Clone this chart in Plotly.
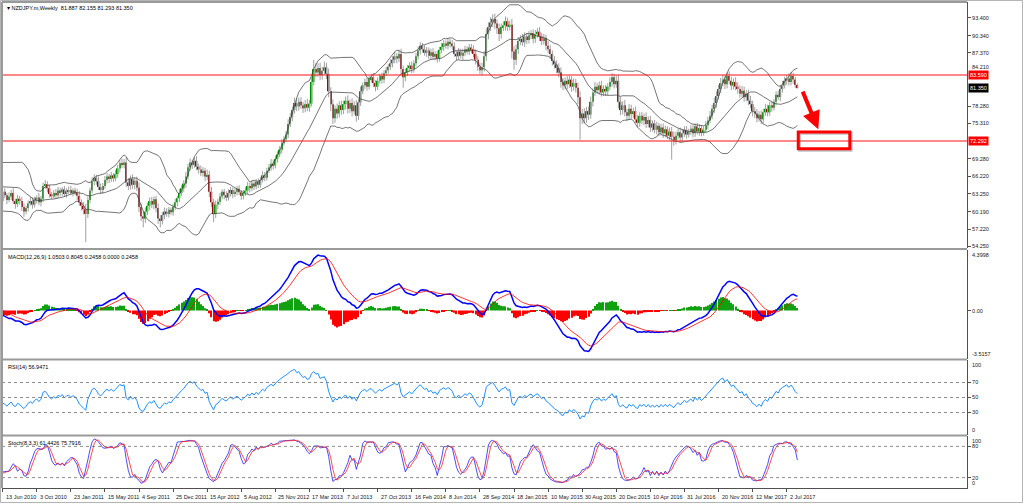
import numpy as np
import pandas as pd
import plotly.graph_objects as go

# ---------------- data (weekly NZDJPY) ----------------
title_text = "NZDJPY.m,Weekly  81.887 82.155 81.293 81.350"
macd_text = "MACD(12,26,9) 1.0503 0.8045 0.2458 0.0000 0.2458"
rsi_text = "RSI(14) 56.9471"
stoch_text = "Stoch(8,3,3) 61.4426 75.7916"

first_visible_week = "2010-06-13"

# history before the first visible bar (needed for the indicators)
pre_first_open = 65.0
pre_closes = [65.4, 64.8, 62.6, 63.6, 64.4, 64.9, 65.6, 66.8, 67.1, 66.0,
              64.2, 63.2, 62.4, 62.9, 63.3, 62.5, 62.2, 63.4, 64.3, 65.6,
              66.8, 67.3, 67.0, 68.2, 68.5, 65.8, 64.6, 62.4, 62.9, 62.0]
pre_wick_up = [0.6, 0.5, 0.7, 0.6, 0.5, 0.7, 0.6, 0.8, 0.6, 0.5,
               0.7, 0.6, 0.5, 0.6, 0.7, 0.5, 0.6, 0.7, 0.6, 0.5,
               0.8, 0.6, 0.7, 0.6, 0.9, 0.7, 0.8, 0.9, 0.7, 0.8]
pre_wick_dn = [0.5, 0.7, 1.2, 0.6, 0.5, 0.6, 0.7, 0.5, 0.6, 0.8,
               0.7, 0.6, 0.7, 0.5, 0.6, 0.7, 0.6, 0.5, 0.6, 0.7,
               0.5, 0.6, 0.7, 0.5, 0.6, 1.0, 0.9, 2.5, 0.8, 0.7]

closes = [
    63.6, 63.0, 62.2, 62.8, 63.4, 62.0, 61.5, 62.4, 62.0, 61.0,
    60.2, 60.8, 61.6, 62.0, 61.4, 62.2, 62.6, 61.8, 62.4, 64.6,
    64.9, 64.2, 63.2, 62.8, 63.4, 63.0, 63.8, 63.5, 64.0, 63.2,
    63.7, 63.9, 63.4, 63.8, 63.5, 62.9, 61.8, 61.2, 60.6, 59.8,
    62.2, 63.8, 65.4, 66.0, 65.4, 64.4, 63.9, 64.6, 65.6, 66.2,
    65.8, 66.4, 65.9, 66.6, 67.6, 68.5, 68.2, 68.6, 65.2, 64.6,
    65.8, 64.8, 65.5, 64.3, 61.0, 59.4, 59.0, 60.2, 61.2, 62.0,
    61.4, 62.3, 60.8, 59.0, 58.6, 59.6, 60.2, 59.8, 60.5, 60.1,
    61.0, 61.8, 62.5, 63.4, 64.2, 65.0, 66.2, 67.8, 68.6, 68.2,
    68.9, 67.9, 67.4, 66.8, 67.2, 66.2, 66.5, 63.6, 61.8, 59.8,
    61.4, 61.9, 62.8, 63.6, 63.0, 62.6, 63.4, 63.9, 63.2, 63.6,
    64.1, 63.5, 62.9, 63.4, 63.8, 64.6, 64.2, 65.0, 64.5, 65.3,
    64.8, 65.6, 66.4, 66.0, 67.2, 67.8, 68.4, 68.1, 69.2, 70.0,
    70.8, 71.9, 72.6, 73.4, 75.2, 76.4, 77.6, 78.8, 78.2, 79.0,
    78.4, 77.9, 78.6, 78.0, 78.7, 82.4, 84.6, 84.0, 84.8, 83.6,
    84.3, 84.9, 83.8, 80.8, 78.6, 76.2, 77.8, 77.0, 78.4, 77.6,
    78.6, 79.2, 77.8, 78.8, 77.4, 78.4, 76.6, 78.9, 80.8, 81.8,
    82.4, 81.6, 82.9, 83.2, 82.2, 81.6, 82.6, 83.4, 82.8, 83.9,
    84.4, 85.0, 85.6, 86.2, 86.8, 86.4, 87.2, 84.6, 83.2, 84.0,
    84.8, 85.2, 84.6, 85.6, 86.8, 87.8, 88.6, 88.0, 87.4, 87.8,
    86.9, 87.5, 86.7, 87.2, 86.4, 87.9, 88.4, 89.0, 88.6, 89.3,
    89.0, 88.5, 87.2, 86.8, 87.6, 86.9, 87.4, 88.0, 87.6, 88.3,
    88.0, 87.2, 86.2, 85.0, 84.4, 84.9, 86.8, 90.6, 91.8, 92.6,
    93.2, 92.4, 91.6, 90.6, 91.8, 92.1, 92.8, 91.9, 92.2, 87.6,
    86.2, 88.0, 89.4, 89.8, 89.2, 90.2, 89.6, 90.4, 90.8, 89.8,
    90.6, 91.0, 90.2, 89.4, 89.9, 88.6, 88.0, 87.2, 86.0, 85.4,
    84.8, 84.0, 82.4, 81.8, 82.6, 82.0, 82.8, 81.6, 82.2, 81.4,
    79.8, 76.2, 77.0, 76.2, 77.4, 76.8, 79.0, 80.6, 81.6, 81.0,
    81.8, 80.6, 81.2, 80.8, 81.6, 82.4, 83.2, 82.0, 82.6, 79.0,
    77.6, 78.4, 77.2, 76.6, 77.8, 76.9, 77.4, 76.0, 75.4, 76.6,
    75.8, 76.4, 75.2, 75.9, 74.6, 75.3, 74.2, 74.9, 73.8, 74.6,
    73.6, 74.3, 73.2, 73.9, 73.0, 72.4, 73.2, 73.8, 72.9, 73.6,
    74.2, 73.4, 73.9, 74.4, 73.6, 74.8, 73.9, 74.5, 73.7, 74.2,
    75.0, 75.8, 76.6, 77.8, 78.8, 80.0, 81.2, 82.2, 82.8, 82.0,
    83.4, 82.6, 81.8, 82.4, 81.6, 81.2, 80.4, 80.9, 79.8, 80.4,
    79.2, 78.6, 77.4, 77.0, 76.2, 76.8, 76.0, 77.2, 77.8, 77.2,
    78.4, 78.0, 79.0, 80.2, 79.8, 81.2, 81.8, 82.6, 83.0, 82.4,
    83.4, 82.8, 81.887, 81.35]

wick_up = [
    0.5, 0.6, 0.4, 0.7, 0.5, 0.8, 0.4, 0.6, 0.5, 0.7,
    0.6, 0.4, 0.5, 0.7, 0.6, 0.5, 0.4, 0.8, 0.5, 0.6,
    0.7, 0.5, 0.6, 0.4, 0.5, 0.7, 0.6, 0.5, 0.4, 0.6,
    0.5, 0.6, 0.7, 0.4, 0.5, 0.6, 0.8, 0.5, 0.7, 0.9,
    0.6, 0.5, 0.7, 0.6, 0.5, 0.8, 0.6, 0.5, 0.7, 0.6,
    0.5, 0.6, 0.4, 0.7, 0.6, 0.5, 0.8, 0.6, 0.9, 0.7,
    0.6, 0.8, 0.5, 0.7, 0.9, 0.6, 0.8, 0.7, 0.5, 0.6,
    0.7, 0.5, 0.6, 0.8, 0.6, 0.5, 0.7, 0.6, 0.5, 0.4,
    0.5, 0.6, 0.4, 0.7, 0.5, 0.6, 0.8, 0.6, 0.7, 0.5,
    0.6, 0.8, 0.5, 0.7, 0.6, 0.5, 0.9, 0.7, 0.8, 0.6,
    0.7, 0.5, 0.6, 0.4, 0.5, 0.7, 0.6, 0.5, 0.4, 0.6,
    0.5, 0.6, 0.4, 0.5, 0.6, 0.7, 0.5, 0.6, 0.4, 0.5,
    0.6, 0.5, 0.7, 0.6, 0.5, 0.6, 0.8, 0.7, 0.6, 0.5,
    0.6, 0.7, 0.5, 0.6, 0.8, 0.7, 0.6, 0.9, 0.8, 0.7,
    0.8, 0.6, 0.7, 0.9, 0.6, 0.8, 1.6, 1.0, 0.8, 0.9,
    0.7, 1.0, 0.8, 0.9, 0.7, 0.8, 0.6, 0.9, 0.7, 0.8,
    0.6, 0.7, 0.9, 0.6, 0.8, 0.7, 0.9, 0.6, 0.8, 0.5,
    0.6, 0.7, 0.5, 0.6, 0.7, 0.5, 0.6, 0.4, 0.6, 0.5,
    0.6, 0.5, 0.7, 0.6, 0.8, 0.6, 0.7, 0.9, 0.6, 0.7,
    0.5, 0.6, 0.7, 0.5, 0.6, 0.7, 0.6, 0.5, 0.7, 0.6,
    0.5, 0.6, 0.7, 0.5, 0.6, 0.5, 0.7, 0.6, 0.5, 0.6,
    0.5, 0.6, 0.7, 0.5, 0.6, 0.5, 0.7, 0.6, 0.5, 0.6,
    0.6, 0.7, 0.8, 0.6, 0.7, 0.8, 0.9, 1.0, 0.8, 0.9,
    0.8, 0.9, 0.7, 0.8, 0.6, 0.7, 0.8, 0.6, 0.7, 1.0,
    0.9, 0.8, 0.7, 0.6, 0.8, 0.7, 0.6, 0.7, 0.5, 0.6,
    0.7, 0.6, 0.8, 0.6, 0.7, 0.6, 0.8, 0.7, 0.6, 0.8,
    0.7, 0.8, 0.9, 0.7, 0.6, 0.8, 0.7, 0.6, 0.8, 0.7,
    0.9, 1.0, 0.8, 0.9, 0.7, 0.8, 0.9, 0.7, 0.8, 0.6,
    0.7, 0.8, 0.6, 0.7, 0.6, 0.8, 0.7, 0.6, 0.9, 1.0,
    0.8, 0.7, 0.9, 0.6, 0.8, 0.7, 0.6, 0.8, 0.7, 0.6,
    0.7, 0.6, 0.8, 0.6, 0.7, 0.5, 0.6, 0.7, 0.5, 0.6,
    0.7, 0.6, 0.5, 0.7, 0.8, 0.9, 0.7, 0.6, 0.8, 0.7,
    0.6, 0.7, 0.5, 0.6, 0.7, 0.5, 0.6, 0.7, 0.5, 0.6,
    0.7, 0.6, 0.8, 0.7, 0.9, 0.8, 0.7, 0.9, 0.8, 0.7,
    0.6, 0.8, 0.7, 0.6, 0.8, 0.7, 0.6, 0.8, 0.7, 0.6,
    0.7, 0.8, 0.6, 0.7, 0.8, 0.6, 0.7, 0.6, 0.8, 0.7,
    0.6, 0.7, 0.5, 0.6, 0.7, 0.6, 0.8, 0.7, 0.6, 0.9,
    0.7, 0.6, 0.5, 0.27]

wick_dn = [
    0.6, 0.5, 0.7, 0.4, 0.6, 0.5, 0.8, 0.5, 0.6, 0.7,
    0.9, 0.5, 0.6, 0.4, 0.7, 0.5, 0.6, 0.5, 0.7, 0.6,
    0.5, 0.7, 0.6, 0.5, 0.4, 0.6, 0.5, 0.7, 0.6, 0.5,
    0.6, 0.5, 0.4, 0.6, 0.5, 0.7, 0.6, 0.8, 0.9, 4.8,
    0.7, 0.6, 0.5, 0.7, 0.6, 0.5, 0.7, 0.6, 0.5, 0.6,
    0.7, 0.5, 0.6, 0.5, 0.6, 0.7, 0.5, 0.6, 0.8, 0.7,
    0.6, 0.7, 0.8, 0.6, 0.9, 0.8, 1.5, 0.7, 0.6, 0.7,
    0.6, 0.8, 0.7, 0.9, 1.1, 0.6, 0.7, 0.5, 0.6, 0.5,
    0.6, 0.5, 0.7, 0.6, 0.5, 0.6, 0.7, 0.5, 0.6, 0.7,
    0.5, 0.6, 0.7, 0.5, 0.6, 0.8, 0.6, 0.9, 0.8, 1.4,
    0.7, 0.8, 0.6, 0.5, 0.7, 0.6, 0.5, 0.6, 0.7, 0.5,
    0.6, 0.5, 0.7, 0.6, 0.5, 0.6, 0.7, 0.5, 0.6, 0.5,
    0.6, 0.5, 0.4, 0.6, 0.5, 0.4, 0.6, 0.7, 0.5, 0.6,
    0.5, 0.6, 0.4, 0.5, 0.6, 0.5, 0.7, 0.6, 0.8, 0.7,
    0.6, 0.8, 0.7, 0.6, 0.7, 0.5, 0.6, 0.8, 0.7, 0.9,
    0.8, 0.7, 0.9, 1.0, 1.2, 1.0, 0.8, 0.9, 0.7, 0.8,
    0.7, 0.9, 0.8, 0.7, 0.9, 0.6, 1.0, 0.7, 0.6, 0.5,
    0.6, 0.7, 0.5, 0.6, 0.7, 0.8, 0.6, 0.5, 0.7, 0.6,
    0.5, 0.6, 0.5, 0.7, 0.6, 0.8, 0.6, 0.9, 1.8, 0.7,
    0.6, 0.5, 0.7, 0.6, 0.5, 0.6, 0.7, 0.6, 0.5, 0.7,
    0.6, 0.7, 0.5, 0.6, 0.7, 0.5, 0.6, 0.7, 0.5, 0.6,
    0.7, 0.6, 0.5, 0.7, 0.6, 0.5, 0.7, 0.6, 0.5, 0.6,
    0.7, 0.6, 0.8, 0.7, 0.6, 0.9, 0.7, 0.8, 0.9, 0.7,
    0.8, 0.9, 1.0, 1.2, 0.8, 0.7, 0.9, 0.8, 0.7, 1.2,
    1.7, 0.9, 0.8, 0.7, 0.6, 0.8, 0.7, 0.6, 0.7, 0.8,
    0.7, 0.6, 0.8, 0.7, 0.6, 0.8, 0.7, 0.9, 0.8, 0.7,
    0.9, 0.8, 1.0, 0.8, 0.7, 0.8, 0.6, 0.9, 0.7, 0.8,
    1.2, 3.7, 1.0, 0.9, 0.8, 0.9, 0.7, 0.8, 0.6, 0.7,
    0.8, 0.7, 0.6, 0.8, 0.7, 0.6, 0.8, 0.7, 0.6, 1.1,
    0.9, 0.8, 0.7, 0.9, 0.7, 0.8, 0.7, 0.6, 0.8, 0.7,
    0.6, 0.8, 0.7, 0.6, 0.8, 0.7, 0.6, 0.8, 0.7, 0.6,
    0.8, 0.7, 0.6, 0.8, 3.9, 0.9, 0.7, 0.6, 0.8, 0.7,
    0.6, 0.7, 0.5, 0.6, 0.7, 0.6, 0.5, 0.7, 0.6, 0.5,
    0.6, 0.7, 0.5, 0.6, 0.7, 0.8, 0.6, 0.7, 0.5, 0.8,
    0.7, 0.6, 0.8, 0.7, 0.6, 0.8, 0.7, 0.6, 0.8, 0.7,
    0.8, 0.7, 0.9, 0.8, 0.7, 0.6, 0.8, 0.7, 0.6, 0.7,
    0.6, 0.7, 0.5, 0.6, 0.5, 0.7, 0.6, 0.5, 0.7, 0.6,
    0.6, 0.7, 0.5, 0.06]

# horizontal levels drawn on the chart
level_upper = 83.590
level_lower = 72.292
last_price = 81.350

# price-axis labels
price_ticks = [93.400, 90.340, 87.370, 78.280, 75.310,
               69.280, 66.220, 63.250, 60.190, 57.220, 54.250]
price_tick_near_level = 84.210   # partly hidden behind the 83.590 box
macd_max, macd_min = 4.3998, -3.5157
macd_max_text, macd_zero_text, macd_min_text = "4.3998", "0.00", "-3.5157"
rsi_levels = [70, 50, 30]
stoch_levels = [80, 20]

# drawn objects (week offsets from the first visible bar, prices)
arrow_start = (375.2, 81.0)
arrow_end = (382.8, 74.3)
target_box = (373.4, 397.6, 70.95, 73.85)

# view
view_weeks = (-0.3, 452.6)
main_range = (53.97, 96.09)
label_every_weeks = 16

# ---------------- derived series ----------------
n_pre = len(pre_closes)
all_close = np.array(pre_closes + closes, dtype=float)
all_up = np.array(pre_wick_up + wick_up, dtype=float)
all_dn = np.array(pre_wick_dn + wick_dn, dtype=float)
all_open = np.concatenate([[pre_first_open], all_close[:-1]])
all_high = np.maximum(all_open, all_close) + all_up
all_low = np.minimum(all_open, all_close) - all_dn

t0 = pd.Timestamp(first_visible_week)
dates = pd.DatetimeIndex([t0 + pd.Timedelta(weeks=i - n_pre) for i in range(len(all_close))])

def wk(w):
    return t0 + pd.Timedelta(days=7 * w)

c = pd.Series(all_close)
h = pd.Series(all_high)
l = pd.Series(all_low)

mid = c.rolling(20).mean()
sd = c.rolling(20).std(ddof=0)
bb_up = mid + 2 * sd
bb_lo = mid - 2 * sd

ema12 = c.ewm(span=12, adjust=False).mean()
ema26 = c.ewm(span=26, adjust=False).mean()
macd = ema12 - ema26
signal = macd.ewm(span=9, adjust=False).mean()
hist = macd - signal

delta = c.diff()
gain = delta.clip(lower=0).ewm(alpha=1 / 14, adjust=False).mean()
loss = (-delta.clip(upper=0)).ewm(alpha=1 / 14, adjust=False).mean()
rsi = 100 - 100 / (1 + gain / loss)

ll = l.rolling(8).min()
hh = h.rolling(8).max()
k = 100 * (c - ll).rolling(3).sum() / (hh - ll).rolling(3).sum()
d = k.rolling(3).mean()

# ---------------- figure ----------------
WEEK_MS = 7 * 86400000
FONT = "Liberation Sans"
FS = 5.5
fig = go.Figure()

# wicks
wx, wy = [], []
for dt, lo_, hi_ in zip(dates, all_low, all_high):
    wx += [dt, dt, None]
    wy += [lo_, hi_, None]
fig.add_trace(go.Scatter(x=wx, y=wy, mode="lines", line=dict(color="#a0a0a0", width=1),
                         xaxis="x", yaxis="y", hoverinfo="skip"))
# bodies
body_base = np.minimum(all_open, all_close)
body_h = np.maximum(np.abs(all_close - all_open), 0.07)
body_col = np.where(all_close >= all_open, "#008a00", "#8b0f0f")
fig.add_trace(go.Bar(x=dates, y=body_h, base=body_base, width=0.72 * WEEK_MS,
                     marker=dict(color=body_col, line=dict(width=0)),
                     xaxis="x", yaxis="y", hoverinfo="skip"))
# Bollinger bands
for s in (bb_up, mid, bb_lo):
    fig.add_trace(go.Scatter(x=dates, y=s, mode="lines", line=dict(color="#3a3a3a", width=0.7),
                             xaxis="x", yaxis="y", hoverinfo="skip"))

# MACD
fig.add_trace(go.Bar(x=dates, y=hist, width=0.5 * WEEK_MS,
                     marker=dict(color=np.where(hist >= 0, "#10a010", "#ff0000"), line=dict(width=0)),
                     xaxis="x2", yaxis="y2", hoverinfo="skip"))
fig.add_trace(go.Scatter(x=dates, y=macd, mode="lines", line=dict(color="#0000ff", width=1.5),
                         xaxis="x2", yaxis="y2", hoverinfo="skip"))
fig.add_trace(go.Scatter(x=dates, y=signal, mode="lines", line=dict(color="#ff0000", width=0.8),
                         xaxis="x2", yaxis="y2", hoverinfo="skip"))

# RSI
fig.add_trace(go.Scatter(x=dates, y=rsi, mode="lines", line=dict(color="#1e90ff", width=1),
                         xaxis="x3", yaxis="y3", hoverinfo="skip"))

# Stochastic
fig.add_trace(go.Scatter(x=dates, y=k, mode="lines", line=dict(color="#2020ff", width=0.8),
                         xaxis="x4", yaxis="y4", hoverinfo="skip"))
fig.add_trace(go.Scatter(x=dates, y=d, mode="lines", line=dict(color="#ff2020", width=0.8),
                         xaxis="x4", yaxis="y4", hoverinfo="skip"))

# ---------------- layout ----------------
H_TOP, H_BOT, P_LEFT, P_RIGHT = 2, 488, 2, 967
def py(img_y):
    return (H_BOT - img_y) / (H_BOT - H_TOP)
def px(img_x):
    return (img_x - P_LEFT) / (P_RIGHT - P_LEFT)

dom_main = [py(248), 1.0]
dom_macd = [py(359), py(250)]
dom_rsi = [py(435), py(360)]
dom_stoch = [0.0, py(436)]

xr = [wk(view_weeks[0]), wk(view_weeks[1])]
tick_dates = [wk(i) for i in range(0, len(closes), label_every_weeks)]

xcommon = dict(range=xr, type="date", showgrid=False, zeroline=False, showticklabels=False)
ycommon = dict(side="right", showgrid=False, zeroline=False, showline=True, linecolor="#505050",
               linewidth=1, ticks="outside", ticklen=3, tickcolor="#505050",
               tickfont=dict(family=FONT, size=FS, color="#202020"))

fig.update_layout(
    width=1024, height=504,
    margin=dict(l=P_LEFT, r=1024 - P_RIGHT, t=H_TOP, b=504 - H_BOT, autoexpand=False),
    paper_bgcolor="white", plot_bgcolor="white",
    showlegend=False, barmode="overlay",
    xaxis=dict(domain=[0, 1], anchor="y", **xcommon),
    xaxis2=dict(domain=[0, 1], anchor="y2", matches="x", **xcommon),
    xaxis3=dict(domain=[0, 1], anchor="y3", matches="x", **xcommon),
    xaxis4=dict(domain=[0, 1], anchor="y4", matches="x", range=xr, type="date", showgrid=False,
                zeroline=False, showticklabels=False, showline=True, linecolor="#505050",
                ticks="outside", ticklen=3, tickcolor="#505050", tickvals=tick_dates),
    yaxis=dict(domain=dom_main, anchor="x", range=list(main_range), tickvals=price_ticks,
               ticktext=[f"{v:.3f}" for v in price_ticks], **ycommon),
    yaxis2=dict(domain=dom_macd, anchor="x2", range=[macd_min, macd_max],
                tickvals=[0.0], ticktext=[macd_zero_text], **ycommon),
    yaxis3=dict(domain=dom_rsi, anchor="x3", range=[0, 100], tickvals=rsi_levels,
                ticktext=[str(v) for v in rsi_levels], **ycommon),
    yaxis4=dict(domain=dom_stoch, anchor="x4", range=[0, 100], tickvals=stoch_levels,
                ticktext=[str(v) for v in stoch_levels], **ycommon),
)

shapes = []
for lv in (level_upper, level_lower):
    shapes.append(dict(type="line", xref="paper", yref="y", x0=0, x1=1, y0=lv, y1=lv,
                       line=dict(color="#ff1010", width=1.2)))
for lv in rsi_levels:
    shapes.append(dict(type="line", xref="paper", yref="y3", x0=0, x1=1, y0=lv, y1=lv,
                       line=dict(color="#707070", width=0.8, dash="dot")))
for lv in stoch_levels:
    shapes.append(dict(type="line", xref="paper", yref="y4", x0=0, x1=1, y0=lv, y1=lv,
                       line=dict(color="#707070", width=0.8, dash="dot")))
for sy in (py(249), py(359.5), py(435.5)):
    shapes.append(dict(type="line", xref="paper", yref="paper", x0=0, x1=1, y0=sy, y1=sy,
                       line=dict(color="#9a9a9a", width=2)))
shapes.append(dict(type="line", xref="paper", yref="paper", x0=0, x1=1, y0=1, y1=1,
                   line=dict(color="#9a9a9a", width=2)))
shapes.append(dict(type="line", xref="paper", yref="paper", x0=0, x1=0, y0=0, y1=1,
                   line=dict(color="#9a9a9a", width=2)))
# outer window frame
shapes.append(dict(type="rect", xref="paper", yref="paper", x0=px(0.5), x1=px(1022.5),
                   y0=py(502.5), y1=py(0.5), line=dict(color="#b4b4b4", width=1)))
bx0, bx1, by0, by1 = target_box
shapes.append(dict(type="rect", xref="x", yref="y", x0=wk(bx0 + 0.6), x1=wk(bx1 + 0.6),
                   y0=by0 - 0.25, y1=by1 - 0.25, line=dict(color="rgba(120,120,120,0.45)", width=3)))
shapes.append(dict(type="rect", xref="x", yref="y", x0=wk(bx0), x1=wk(bx1), y0=by0, y1=by1,
                   line=dict(color="#ff0000", width=3)))
fig.update_layout(shapes=shapes)

ann = []
def label(text, yref, y, yanchor, xshift=4, yshift=0):
    return dict(xref="paper", yref=yref, x=0, y=y, xanchor="left", yanchor=yanchor,
                xshift=xshift, yshift=yshift, showarrow=False, text=text,
                font=dict(family=FONT, size=FS, color="#000000"))

ann.append(label("▾ " + title_text, "paper", 1, "top", xshift=3, yshift=-1))
ann.append(label(macd_text, "paper", dom_macd[1], "top", yshift=-2))
ann.append(label(rsi_text, "paper", dom_rsi[1], "top", yshift=-2))
ann.append(label(stoch_text, "paper", dom_stoch[1], "top", yshift=-2))

def right_label(text, yref, y, yanchor, yshift=0):
    return dict(xref="paper", yref=yref, x=1, y=y, xanchor="left", yanchor=yanchor,
                xshift=3, yshift=yshift, showarrow=False, text=text,
                font=dict(family=FONT, size=FS, color="#202020"))

ann.append(right_label(f"{price_tick_near_level:.3f}", "y", price_tick_near_level, "bottom", yshift=-1))
ann.append(right_label(macd_max_text, "paper", dom_macd[1], "top"))
ann.append(right_label(macd_min_text, "paper", dom_macd[0], "bottom"))
ann.append(right_label("100", "paper", dom_rsi[1], "top"))
ann.append(right_label("0", "paper", dom_rsi[0], "bottom"))
ann.append(right_label("100", "paper", dom_stoch[1], "top"))
ann.append(right_label("0", "paper", dom_stoch[0], "bottom"))

for val, bg in ((level_upper, "#ff0000"), (level_lower, "#ff0000"), (last_price, "#000000")):
    ann.append(dict(xref="paper", yref="y", x=1, y=val, xanchor="left", yanchor="middle",
                    xshift=1, showarrow=False, text=f"{val:.3f}", bgcolor=bg, borderpad=1,
                    font=dict(family=FONT, size=FS, color="#ffffff")))
for td in tick_dates:
    ann.append(dict(xref="x4", yref="paper", x=td, y=0, xanchor="left", yanchor="top",
                    xshift=1, yshift=-4, showarrow=False, text=f"{td.day} {td.strftime('%b %Y')}",
                    font=dict(family=FONT, size=FS, color="#202020")))
ann.append(dict(xref="x", yref="y", axref="x", ayref="y", x=wk(arrow_end[0]), y=arrow_end[1],
                ax=wk(arrow_start[0]), ay=arrow_start[1], showarrow=True, arrowhead=2,
                arrowsize=0.9, arrowwidth=4, arrowcolor="#ff0000", text=""))
fig.update_layout(annotations=ann)

fig.write_html("out.html", config={"displayModeBar": False},
               post_script="document.body.style.margin='0px';document.body.style.padding='0px';")
